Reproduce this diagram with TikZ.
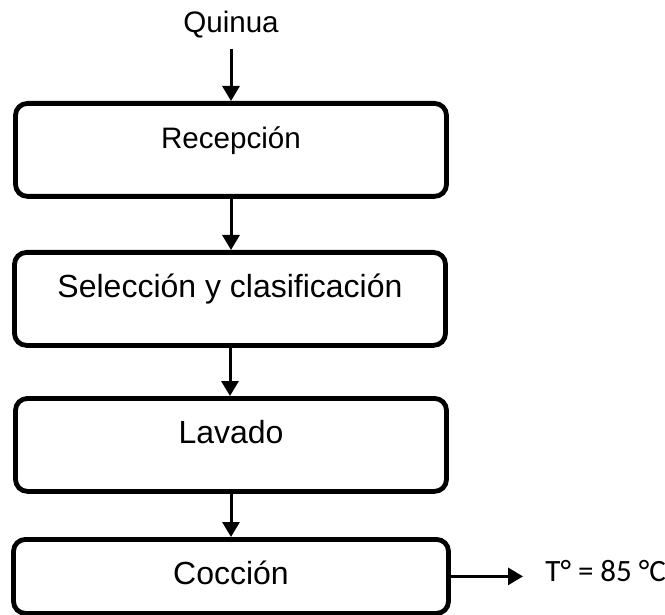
\documentclass[tikz,border=0pt]{standalone}
\usepackage{fontspec}
\setmainfont{Liberation Sans}
\newfontfamily\calibfont{Carlito}
\usepackage{tikz}
\usetikzlibrary{positioning, arrows.meta, calc}

\begin{document}
\begin{tikzpicture}[
    x=0.5pt, y=-0.5pt,
    % 方框:文字靠上
    block/.style={draw, rectangle, rounded corners=6pt, line width=2.4pt,
                  anchor=north, minimum width=215.5pt, inner sep=3pt,
                  text height=19.75pt, text depth=20.75pt,
                  font=\fontsize{16pt}{19pt}\selectfont},
    arrow/.style={line width=1.5pt, -{Triangle[length=7.5pt, width=8.5pt]}},
    label/.style={inner sep=0pt, font=\fontsize{14.8pt}{17pt}\selectfont}
]
\useasboundingbox (0,0) rectangle (665,615);

% 原料
\node[label, anchor=center] (raw) at (231,25) {Quinua};

% 工序
\node[block, font=\fontsize{14.8pt}{17pt}\selectfont] (recep) at (231,101) {Recepción};
\node[block] (selec) at (230,250) {Selección y clasificación};
\node[block] (lav) at (231,396) {Lavado};
\node[block, minimum width=217.5pt, text depth=11.25pt] (cocc) at (231,537) {Cocción};

% 参数
\node[inner sep=0pt, anchor=west, font=\calibfont\fontsize{15.5pt}{18pt}\selectfont] (temp) at (545,571.5) {T° = 85 °C};

% 箭头
\draw[arrow, shorten <=5pt] (raw) -- (raw |- recep.north);
\draw[arrow] (recep.south) -- (recep.south |- selec.north);
\draw[arrow] (selec.south) -- (selec.south |- lav.north);
\draw[arrow] (lav.south) -- (lav.south |- cocc.north);
\draw[arrow, shorten >=11pt] (cocc.east) -- (cocc.east -| temp.west);

\end{tikzpicture}
\end{document}
